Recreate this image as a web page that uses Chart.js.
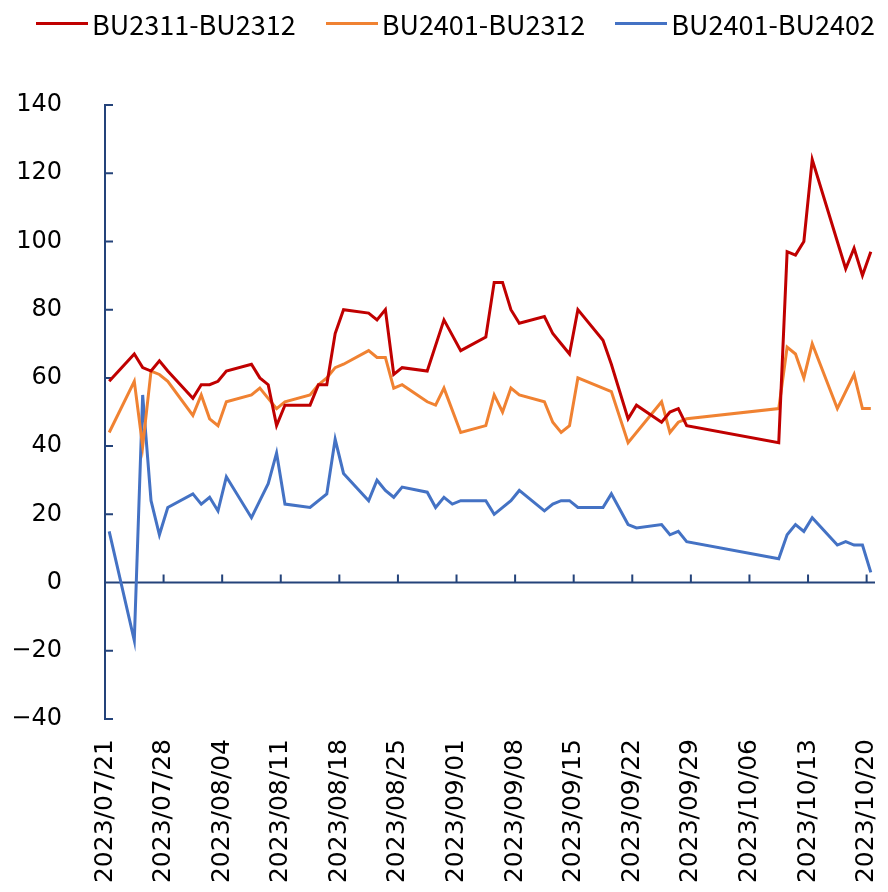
<!DOCTYPE html>
<html>
<head>
<meta charset="utf-8">
<script src="https://cdn.jsdelivr.net/npm/chart.js@4.4.0/dist/chart.umd.min.js"></script>
<style>
  html, body { margin: 0; padding: 0; background: #fff; }
  #wrap { position: relative; width: 888px; height: 892px; }
  #legend {
    position: absolute; left: 0; top: 0; height: 46px;
    display: flex; align-items: center; gap: 30px; padding-left: 36px;
    font-family: 'Noto Sans CJK SC', sans-serif; font-size: 27px; color: #000;
  }
  .item { display: flex; align-items: center; white-space: nowrap; }
  .swatch { width: 52px; height: 3px; margin-right: 4px; }
</style>
</head>
<body>
<div id="wrap">
  <canvas id="spread-chart" width="888" height="892"></canvas>
  <div id="legend"></div>
</div>
<script>
// trading days shown on the chart
const dates = [
  '2023/07/21', '2023/07/24', '2023/07/25', '2023/07/26', '2023/07/27', '2023/07/28', '2023/07/31',
  '2023/08/01', '2023/08/02', '2023/08/03', '2023/08/04', '2023/08/07', '2023/08/08', '2023/08/09',
  '2023/08/10', '2023/08/11', '2023/08/14', '2023/08/15', '2023/08/16', '2023/08/17', '2023/08/18',
  '2023/08/21', '2023/08/22', '2023/08/23', '2023/08/24', '2023/08/25', '2023/08/28', '2023/08/29',
  '2023/08/30', '2023/08/31', '2023/09/01', '2023/09/04', '2023/09/05', '2023/09/06', '2023/09/07',
  '2023/09/08', '2023/09/11', '2023/09/12', '2023/09/13', '2023/09/14', '2023/09/15', '2023/09/18',
  '2023/09/19', '2023/09/20', '2023/09/21', '2023/09/22', '2023/09/25', '2023/09/26', '2023/09/27',
  '2023/09/28', '2023/10/09', '2023/10/10', '2023/10/11', '2023/10/12', '2023/10/13', '2023/10/16',
  '2023/10/17', '2023/10/18', '2023/10/19', '2023/10/20'
];

const tickLabels = [
  '2023/07/21', '2023/07/28', '2023/08/04', '2023/08/11', '2023/08/18', '2023/08/25', '2023/09/01',
  '2023/09/08', '2023/09/15', '2023/09/22', '2023/09/29', '2023/10/06', '2023/10/13', '2023/10/20'
];

const seriesNames = ['BU2311-BU2312', 'BU2401-BU2312', 'BU2401-BU2402'];

const bu2311_2312 = [
  59, 67, 63, 62, 65, 62, 54, 58, 58, 59, 62, 64, 60, 58, 46, 52, 52, 58, 58, 73, 80,
  79, 77, 80, 61, 63, 62, null, 77, null, 68, 72, 88, 88, 80, 76, 78, 73, 70, 67, 80,
  71, 64, null, 48, 52, 47, 50, 51, 46, 41, 97, 96, 100, 124, 100, 92, 98, 90, 97
];
const bu2401_2312 = [
  44, 59, 40, 62, 61, 59, 49, 55, 48, 46, 53, 55, 57, 54, 51, 53, 55, 58, 60, 63, 64,
  68, 66, 66, 57, 58, 53, 52, 57, null, 44, 46, 55, 50, 57, 55, 53, 47, 44, 46, 60,
  null, 56, null, 41, null, 53, 44, 47, 48, 51, 69, 67, 60, 70, 51, null, 61, 51, 51
];
const bu2401_2402 = [
  15, -17, 55, 24, 14, 22, 26, 23, 25, 21, 31, 19, 24, 29, 38, 23, 22, null, 26, 42, 32,
  24, 30, 27, 25, 28, 26.5, 22, 25, 23, 24, 24, 20, null, 24, 27, 21, 23, 24, 24, 22,
  22, 26, null, 17, 16, 17, 14, 15, 12, 7, 14, 17, 15, 19, 11, 12, 11, 11, 3
];

const colors = ['#C00000', '#F08232', '#4472C4'];
const axisColor = '#24437A';

function dayOffset(s) {
  const p = s.split('/').map(Number);
  const s0 = tickLabels[0].split('/').map(Number);
  return (Date.UTC(p[0], p[1] - 1, p[2]) - Date.UTC(s0[0], s0[1] - 1, s0[2])) / 86400000;
}

// each day is one slot; points sit in the middle of their slot
function toPoints(values) {
  return dates.map((d, i) => ({ x: dayOffset(d) + 0.5, y: values[i] }));
}

const tickDays = tickLabels.map(dayOffset);
const lastDay = dayOffset(dates[dates.length - 1]) + 1;

// inward tick marks and the x axis line at zero
const axisMarks = {
  id: 'axisMarks',
  beforeDatasetsDraw(chart) {
    const { ctx, chartArea, scales: { x, y } } = chart;
    const y0 = y.getPixelForValue(0);
    ctx.save();
    ctx.strokeStyle = axisColor;
    ctx.lineWidth = 2;
    ctx.beginPath();
    ctx.moveTo(chartArea.left, y0);
    ctx.lineTo(x.getPixelForValue(lastDay), y0);
    x.ticks.forEach(t => {
      const px = x.getPixelForValue(t.value);
      ctx.moveTo(px, y0);
      ctx.lineTo(px, y0 - 8);
    });
    y.ticks.forEach(t => {
      const py = y.getPixelForValue(t.value);
      ctx.moveTo(chartArea.left, py);
      ctx.lineTo(chartArea.left + 8, py);
    });
    ctx.stroke();
    ctx.restore();
  }
};

const datasets = [bu2311_2312, bu2401_2312, bu2401_2402].map((vals, i) => ({
  label: seriesNames[i],
  data: toPoints(vals),
  borderColor: colors[i],
  backgroundColor: colors[i],
  borderWidth: 3,
  pointRadius: 0,
  tension: 0,
  spanGaps: true
}));

const chart = new Chart(document.getElementById('spread-chart'), {
  type: 'line',
  data: { datasets: datasets },
  options: {
    responsive: false,
    animation: false,
    layout: { padding: { top: 105, right: 13, bottom: 0, left: 0 } },
    plugins: {
      legend: { display: false },
      tooltip: { enabled: false }
    },
    scales: {
      x: {
        type: 'linear',
        min: 0,
        max: lastDay,
        afterBuildTicks: axis => { axis.ticks = tickDays.map(v => ({ value: v })); },
        afterFit: axis => {
          axis.height = 173;
          axis.paddingLeft = 0;
          axis.paddingRight = 0;
        },
        grid: { display: false, drawTicks: false },
        border: { display: false },
        ticks: {
          autoSkip: false,
          minRotation: 90,
          maxRotation: 90,
          padding: 20,
          color: '#000',
          font: { family: 'DejaVu Sans', size: 25 },
          callback: v => tickLabels[tickDays.indexOf(v)]
        }
      },
      y: {
        min: -40,
        max: 140,
        afterFit: axis => { axis.width = 105; },
        grid: { display: false, drawTicks: false },
        border: { display: true, color: axisColor, width: 2 },
        ticks: {
          stepSize: 20,
          padding: 43,
          color: '#000',
          font: { family: 'DejaVu Sans', size: 24 },
          callback: v => (v < 0 ? '\u2212' + Math.abs(v) : String(v))
        }
      }
    }
  },
  plugins: [axisMarks]
});

// legend as html, built from the datasets
const legend = document.getElementById('legend');
chart.data.datasets.forEach(ds => {
  const item = document.createElement('div');
  item.className = 'item';
  const sw = document.createElement('span');
  sw.className = 'swatch';
  sw.style.background = ds.borderColor;
  const txt = document.createElement('span');
  txt.textContent = ds.label;
  item.appendChild(sw);
  item.appendChild(txt);
  legend.appendChild(item);
});
</script>
</body>
</html>
